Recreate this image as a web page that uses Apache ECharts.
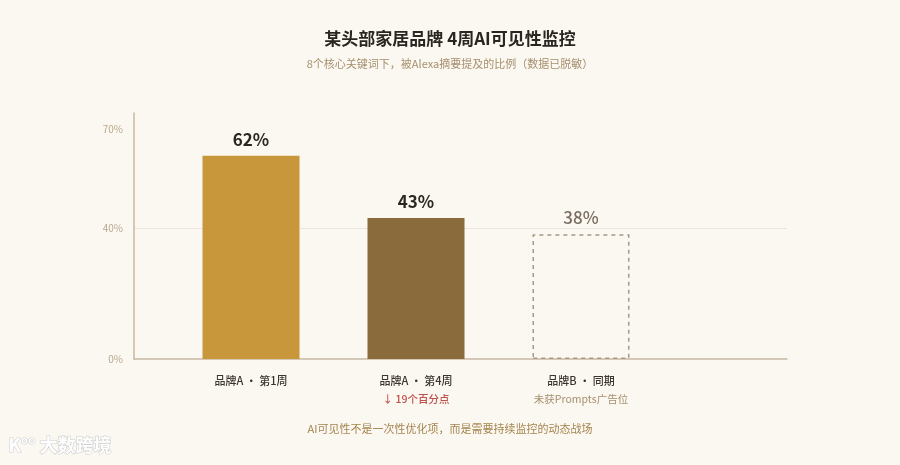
<!DOCTYPE html>
<html><head><meta charset="utf-8">
<script src="https://cdn.jsdelivr.net/npm/echarts@6/dist/echarts.min.js"></script>
<style>html,body{margin:0;padding:0;background:#fbf8f2;} #c{width:900px;height:465px;}</style>
</head><body><div id="c"></div>
<script>
const categories = ['品牌A · 第1周', '品牌A · 第4周', '品牌B · 同期'];
const notes = ['', '↓ 19个百分点', '未获Prompts广告位'];
const values = [62, 43, 38];
const yTickLabels = [0, 40, 70];
const gridLineValue = 40;

const FONT = '"Noto Sans CJK SC", "Noto Sans", sans-serif';
const chart = echarts.init(document.getElementById('c'));

const barStyles = [
  { itemStyle: { color: '#c8963b' }, label: { color: '#2c2620', fontWeight: 'bold' } },
  { itemStyle: { color: '#8a6b3b' }, label: { color: '#2c2620', fontWeight: 'bold' } },
  { itemStyle: { color: 'rgba(0,0,0,0)', borderColor: '#a99a87', borderWidth: 1.5, borderType: [4, 4] },
    label: { color: '#7a6d60', fontWeight: 500 } }
];

chart.setOption({
  backgroundColor: '#fbf8f2',
  textStyle: { fontFamily: FONT },
  title: {
    text: '某头部家居品牌 4周AI可见性监控',
    subtext: '8个核心关键词下，被Alexa摘要提及的比例（数据已脱敏）',
    left: 'center', top: 25, itemGap: 11,
    textStyle: { fontSize: 17, fontWeight: 'bold', color: '#2a2520', fontFamily: FONT },
    subtextStyle: { fontSize: 11, color: '#a68f6d', fontFamily: FONT }
  },
  grid: [
    { left: 134, right: 113, top: 113, bottom: 106 },
    { left: 168.5, right: 236.5, top: 113, bottom: 106 }
  ],
  xAxis: [
    { gridIndex: 0, type: 'value', min: 0, max: 1,
      axisLine: { show: true, lineStyle: { color: '#c8b8a2', width: 1.5 } },
      axisTick: { show: false }, axisLabel: { show: false }, splitLine: { show: false } },
    { gridIndex: 1, type: 'category', data: categories,
      axisLine: { show: false }, axisTick: { show: false },
      axisLabel: {
        interval: 0, hideOverlap: false, margin: 13,
        formatter: (v, i) => notes[i] ? `{a|${v}}\n{n${i}|${notes[i]}}` : `{a|${v}}`,
        rich: {
          a: { fontSize: 11, color: '#3b352f', fontWeight: 500, lineHeight: 18, fontFamily: FONT },
          n1: { fontSize: 10.5, color: '#c0504a', fontWeight: 500, lineHeight: 18, fontFamily: FONT },
          n2: { fontSize: 10.5, color: '#a68f6d', lineHeight: 18, fontFamily: FONT }
        }
      } }
  ],
  yAxis: [
    { gridIndex: 0, type: 'value', min: 0, max: 75, interval: 5,
      axisLine: { show: true, lineStyle: { color: '#c8b8a2', width: 1.5 } },
      axisTick: { show: false }, splitLine: { show: false },
      axisLabel: { margin: 11, fontSize: 10, color: '#b9a88f', fontFamily: FONT,
        formatter: v => yTickLabels.includes(v) ? v + '%' : '' } },
    { gridIndex: 1, type: 'value', min: 0, max: 75, interval: 5, show: false }
  ],
  series: [
    { type: 'line', xAxisIndex: 0, yAxisIndex: 0, data: [], z: 1, silent: true,
      markLine: { silent: true, z: 0, zlevel: 0, symbol: 'none', label: { show: false },
        lineStyle: { color: '#ede5d9', type: 'solid', width: 1 },
        data: [{ yAxis: gridLineValue }] } },
    { type: 'bar', xAxisIndex: 1, yAxisIndex: 1, barWidth: 97, z: 10,
      data: values.map((v, i) => Object.assign({ value: v }, barStyles[i])),
      label: { show: true, position: 'top', distance: 8, fontSize: 17, fontFamily: FONT,
        formatter: p => p.value + '%' } }
  ],
  graphic: [
    { type: 'text', left: 'center', top: 423,
      style: { text: 'AI可见性不是一次性优化项，而是需要持续监控的动态战场', fontSize: 11, fill: '#a5844f', fontFamily: FONT } },
    { type: 'text', left: 8, top: 436,
      style: { text: 'K°° 大数跨境', fontSize: 18, fill: '#ffffff', stroke: '#cfcfcf', lineWidth: 1.2, fontFamily: FONT, fontWeight: 'bold' } }
  ]
});
</script></body></html>
